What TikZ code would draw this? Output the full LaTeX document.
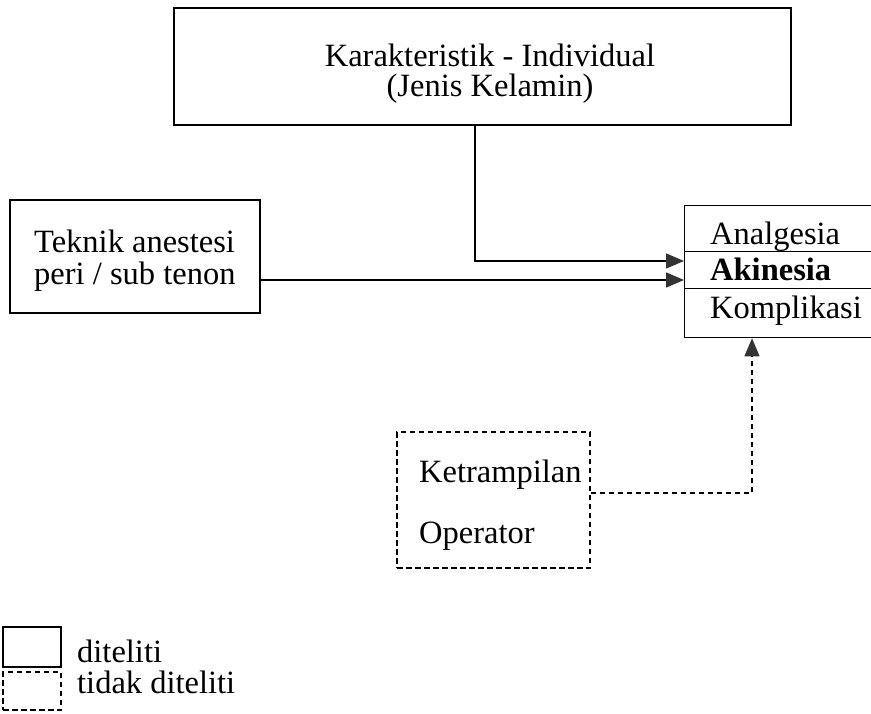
\documentclass[tikz,border=0pt]{standalone}
\usepackage{fontspec}
\setmainfont{Liberation Serif}
\usetikzlibrary{arrows.meta}
\begin{document}
\begin{tikzpicture}[x=1pt,y=-1pt,
  box/.style={draw, line width=1.3pt, inner sep=0pt},
  dbox/.style={draw, line width=1.3pt, inner sep=0pt, dash pattern=on 5.5pt off 3.5pt},
  lbl/.style={inner sep=0pt, font=\fontsize{32.5}{30}\selectfont, text height=22pt, text depth=5pt},
  conn/.style={line width=1.3pt},
  tip/.style={-{Triangle[length=18pt,width=15pt,color=black!80]}},
]
\useasboundingbox (0,0) rectangle (871,714);
\begin{scope}
\clip (0,0) rectangle (871,714);
% top box
\node[box, minimum width=617pt, minimum height=117pt] (kar) at (482.5,66.5) {};
\node[lbl, anchor=base] (kart1) at (490,67) {Karakteristik - Individual};
\node[lbl, anchor=base] (kart2) at (490,97) {(Jenis Kelamin)};
% teknik box
\node[box, minimum width=250pt, minimum height=113pt] (tek) at (135,256.5) {};
\node[lbl, anchor=base west] (tekt1) at (34,253) {Teknik anestesi};
\node[lbl, anchor=base west] (tekt2) at (34,285) {peri / sub tenon};
% right stacked box
\node[box, minimum width=240pt, minimum height=46pt, anchor=north west] (ana) at (684,205) {};
\node[box, minimum width=240pt, minimum height=37pt, anchor=north west] (aki) at (684,251) {};
\node[box, minimum width=240pt, minimum height=49pt, anchor=north west] (kom) at (684,288) {};
\node[lbl, anchor=base west] (anat) at (710,245) {Analgesia};
\node[lbl, anchor=base west] (akit) at (710,281) {\bfseries Akinesia};
\node[lbl, anchor=base west] (komt) at (710,319) {Komplikasi};
% dashed box
\node[dbox, minimum width=193pt, minimum height=136pt] (ket) at (493.5,500) {};
\node[lbl, anchor=base west] (kett) at (419,482) {Ketrampilan};
\node[lbl, anchor=base west] (opt) at (419,543) {Operator};
% connectors
\coordinate (j1) at (475,261);
\coordinate (j2) at (260,280);
\coordinate (j3) at (752,493);
\draw[conn, tip] (kar.south -| j1) |- (aki.west |- j1);
\draw[conn, tip] (tek.east |- j2) -- (aki.west |- j2);
\draw[conn, tip, dash pattern=on 5.5pt off 3.5pt] (ket.east |- j3) -| (kom.south -| j3);
% legend
\node[box, minimum width=58pt, minimum height=40pt] (leg1) at (32,647) {};
\node[dbox, minimum width=58pt, minimum height=38pt] (leg2) at (32,691) {};
\node[lbl, anchor=base west] (leg1t) at (77,662) {diteliti};
\node[lbl, anchor=base west] (leg2t) at (77,693) {tidak diteliti};
\end{scope}
\end{tikzpicture}
\end{document}
